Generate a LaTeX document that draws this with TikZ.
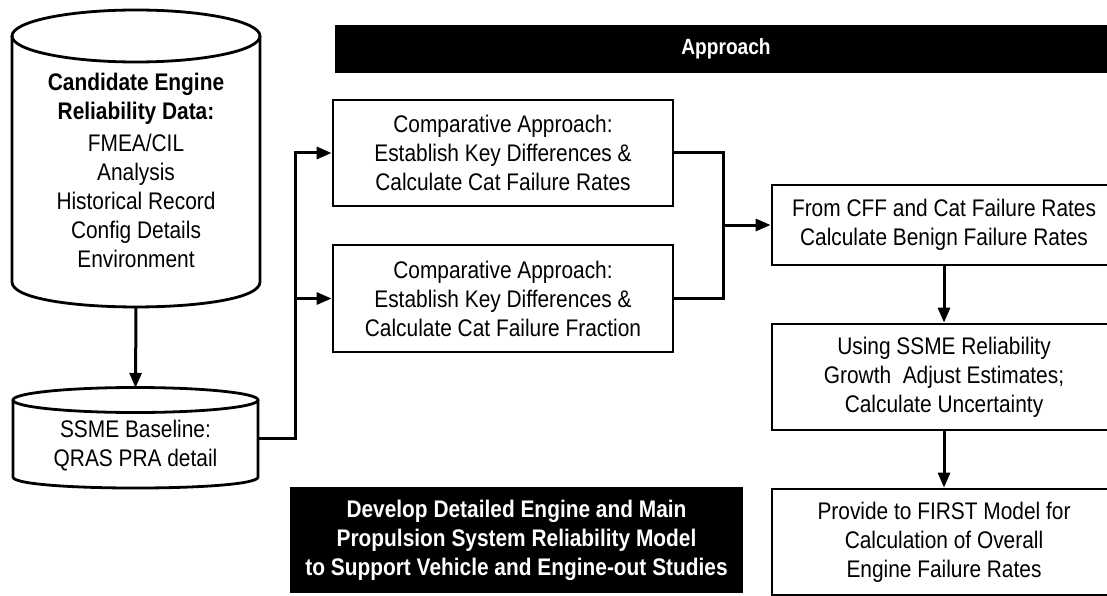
\documentclass[tikz,border=0pt]{standalone}
\usepackage{fontspec}
\setmainfont{Liberation Sans}[FakeStretch=0.87]
\usepackage{tikz}
\usetikzlibrary{arrows.meta}

\begin{document}
\begin{tikzpicture}[x=1pt, y=-1pt, >={Triangle[length=15pt,width=12pt]},
	box/.style={draw, line width=2.8pt, inner sep=0pt, align=center, font=\fontsize{24}{29}\selectfont},
	blackbox/.style={fill=black, text=white, inner sep=0pt, align=center, font=\fontsize{24}{29}\selectfont\bfseries},
	arr/.style={->, line width=3pt},
	link/.style={line width=3pt},
	body/.style={inner sep=0pt, minimum width=#1}]
	\useasboundingbox (0,0) rectangle (1107,596);
	\clip (0,0) rectangle (1107,596);

	% Thanh tieu de
	\node[blackbox, minimum width=782, minimum height=48, font=\fontsize{22}{26}\selectfont\bfseries] (approach) at (726,49) {Approach};

	% Tru du lieu lon
	\draw[line width=2.8pt, fill=white] (12,36) -- (12,282) .. controls (12,315.3) and (260,315.3) .. (260,282) -- (260,36);
	\draw[line width=2.8pt] (136,36) ellipse [x radius=124, y radius=26];
	\node[body=248, minimum height=297] (cand) at (136,158.5) {};
	\node[align=center, font=\fontsize{24}{29}\selectfont] (candtxt) at (136,170)
		{\bfseries Candidate Engine\\ \bfseries Reliability Data:\\[3pt] FMEA/CIL\\ Analysis\\ Historical Record\\ Config Details\\ Environment};

	% Tru SSME nho
	\draw[line width=2.8pt, fill=white] (13,400) -- (13,477) .. controls (13,491.7) and (258,491.7) .. (258,477) -- (258,400);
	\draw[line width=2.8pt] (135.5,400) ellipse [x radius=122.5, y radius=12.5];
	\node[body=245, minimum height=100] (ssme) at (135.5,438) {};
	\node[align=center, font=\fontsize{24}{29}\selectfont] (ssmetxt) at (135.5,446) {SSME Baseline:\\ QRAS PRA detail};

	% Hai hop so sanh
	\node[box, minimum width=340, minimum height=106] (rates) at (503,153)
		{Comparative Approach:\\ Establish Key Differences \&\\ Calculate Cat Failure Rates};
	\node[box, minimum width=340, minimum height=107] (fraction) at (503,298.5)
		{Comparative Approach:\\ Establish Key Differences \&\\ Calculate Cat Failure Fraction};

	% Cot ben phai
	\node[box, minimum width=344, minimum height=80] (benign) at (944,225)
		{From CFF and Cat Failure Rates\\ Calculate Benign Failure Rates};
	\node[box, minimum width=344, minimum height=106] (growth) at (944,377)
		{Using SSME Reliability\\ Growth\ \ Adjust Estimates;\\ Calculate Uncertainty};
	\node[box, minimum width=344, minimum height=106] (first) at (944,542)
		{Provide to FIRST Model for\\ Calculation of Overall\\ Engine Failure Rates};

	% Hop den phia duoi
	\node[blackbox, minimum width=453, minimum height=106] (develop) at (516.5,540)
		{Develop Detailed Engine and Main\\ Propulsion System Reliability Model\\ to Support Vehicle and Engine-out Studies};

	% Cac mui ten
	\coordinate (fork) at (295,438);
	\coordinate (join) at (723,225);
	\draw[arr] (cand.south) -- (ssme.north);
	\draw[arr] (ssme.east) -- (fork) |- (rates.west);
	\draw[arr] (fork) |- (fraction.west);
	\draw[link] (rates.east) -| (join);
	\draw[link] (fraction.east) -| (join);
	\draw[arr] (join) -- (benign.west);
	\draw[arr] (benign.south) -- (growth.north);
	\draw[arr] (growth.south) -- (first.north);
\end{tikzpicture}
\end{document}
